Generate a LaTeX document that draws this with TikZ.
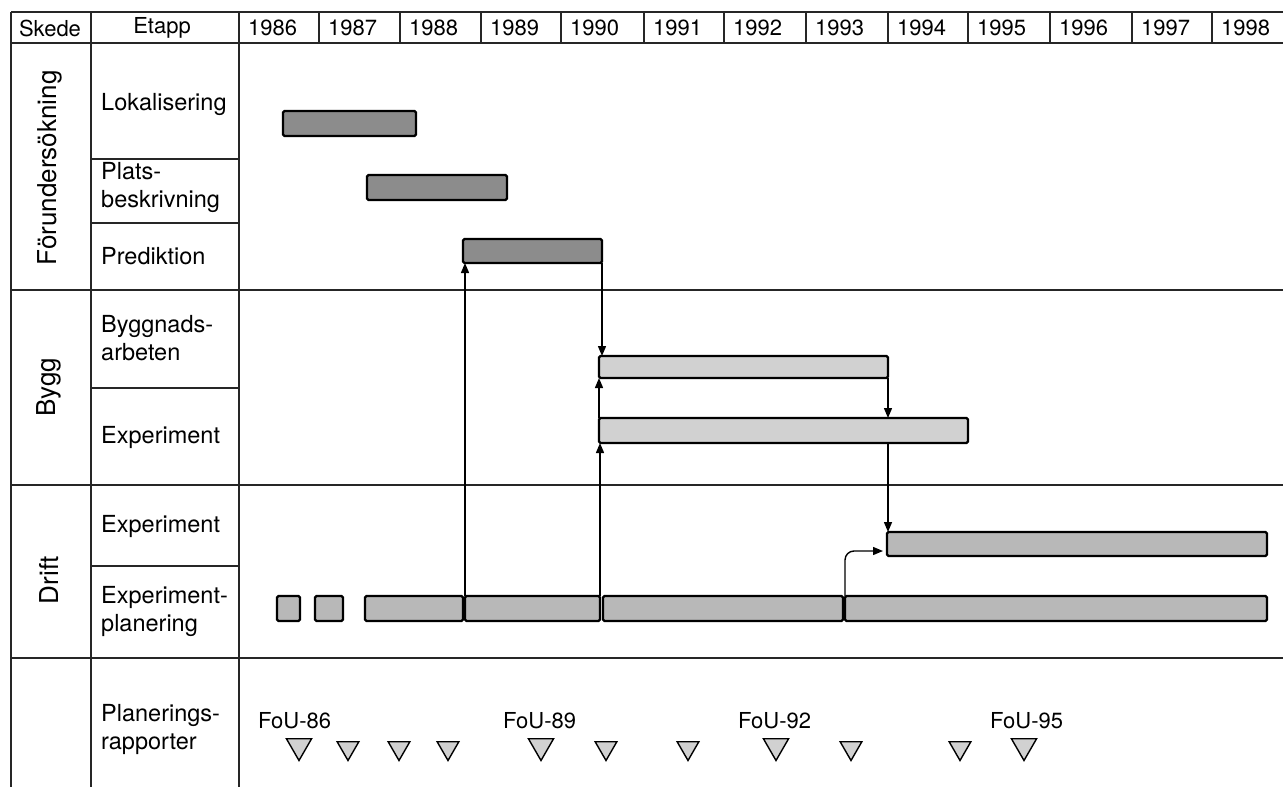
\documentclass[tikz,border=0pt]{standalone}
\usepackage{fontspec}
\setmainfont{TeX Gyre Heros}
\usetikzlibrary{arrows.meta,shapes.geometric,calc}
\begin{document}
\begin{tikzpicture}[x=1pt,y=-1pt,
  grid/.style={line width=1.5pt, draw=black!85},
  txt/.style={inner sep=0pt, font=\fontsize{22}{27}\selectfont},
  etxt/.style={inner sep=0pt, anchor=west, align=left, font=\fontsize{23.5}{28}\selectfont},
  vtxt/.style={inner sep=0pt, rotate=90, font=\fontsize{26}{30}\selectfont},
  bar/.style={draw=black, line width=2.2pt, rounded corners=1.5pt, inner sep=0pt, outer sep=0pt, anchor=north west},
  dark/.style={bar, fill=black!45},
  light/.style={bar, fill=black!18},
  mid/.style={bar, fill=black!28},
  arr/.style={line width=1.4pt, -{Triangle[length=10pt,width=8pt]}},
  rep/.style={draw=black, line width=1.4pt, fill=black!18, regular polygon, regular polygon sides=3, shape border rotate=180, inner sep=0pt},
  big/.style={rep, minimum size=29pt},
  small/.style={rep, minimum size=25pt}
]
\useasboundingbox (0,0) rectangle (1283,787);
\fill[white] (0,0) rectangle (1283,787);

% grid
\draw[grid] (11,12) -- (1283,12);
\draw[grid] (11,43) -- (1283,43);
\draw[grid] (11,290) -- (1283,290);
\draw[grid] (11,485) -- (1283,485);
\draw[grid] (11,658) -- (1283,658);
\draw[grid] (11,12) -- (11,787);
\draw[grid] (91,12) -- (91,787);
\draw[grid] (239,12) -- (239,787);
\draw[grid] (91,159) -- (239,159);
\draw[grid] (91,223) -- (239,223);
\draw[grid] (91,388) -- (239,388);
\draw[grid] (91,566) -- (239,566);
\foreach \x in {319,400,481,561,644,724,806,888,968,1050,1132,1212}
  \draw[grid] (\x,12) -- (\x,43);

% header
\node[txt] (hskede) at (50,28) {Skede};
\node[txt] (hetapp) at (162,28) {Etapp};
\foreach \x/\y in {239/1986,319/1987,400/1988,481/1989,561/1990,644/1991,724/1992,806/1993,888/1994,968/1995,1050/1996,1132/1997,1212/1998}
  \node[txt, anchor=west] (y\y) at (\x+9,28) {\y};

% phase labels
\node[vtxt] (fu) at (50,168) {Förundersökning};
\node[vtxt] (by) at (49,387) {Bygg};
\node[vtxt] (dr) at (49,580) {Drift};

% stage labels
\node[etxt] (elok) at (101,104) {Lokalisering};
\node[etxt] (epla) at (101,187) {Plats-\\beskrivning};
\node[etxt] (epre) at (101,256) {Prediktion};
\node[etxt] (ebyg) at (101,338) {Byggnads-\\arbeten};
\node[etxt] (eexb) at (101,437) {Experiment};
\node[etxt] (eexd) at (101,526) {Experiment};
\node[etxt] (eepl) at (101,611) {Experiment-\\planering};
\node[etxt] (eplr) at (101,729) {Planerings-\\rapporter};

% bars
\node[dark, minimum width=133pt, minimum height=25pt] (lok) at (283,111) {};
\node[dark, minimum width=140pt, minimum height=25pt] (pla) at (367,175) {};
\node[dark, minimum width=139pt, minimum height=24pt] (pre) at (463,239) {};
\node[light, minimum width=289pt, minimum height=22pt] (byg) at (599,356) {};
\node[light, minimum width=369pt, minimum height=25pt] (exb) at (599,418) {};
\node[mid, minimum width=380pt, minimum height=24pt] (exd) at (887,532) {};
\node[mid, minimum width=23pt, minimum height=25pt] (sq1) at (277,596) {};
\node[mid, minimum width=28pt, minimum height=25pt] (sq2) at (315,596) {};
\node[mid, minimum width=98pt, minimum height=25pt] (ep1) at (365,596) {};
\node[mid, minimum width=135pt, minimum height=25pt] (ep2) at (465,596) {};
\node[mid, minimum width=240pt, minimum height=25pt] (ep3) at (603,596) {};
\node[mid, minimum width=422pt, minimum height=25pt] (ep4) at (845,596) {};

% connectors
\draw[arr] (ep2.north west) -- (ep2.north west |- pre.south);
\draw[arr] (pre.south east) -- (pre.south east |- byg.north);
\draw[arr] (exb.north west) -- (exb.north west |- byg.south);
\draw[arr] (ep2.north east) -- (ep2.north east |- exb.south);
\draw[arr] (byg.south east) -- (byg.south east |- exb.north);
\draw[arr] (byg.south east |- exb.south) -- (byg.south east |- exd.north);
\coordinate (ca) at ($(exd.south west)+(-4,-5)$);
\draw[arr, rounded corners=9pt] (ep4.north west) |- (ca);

% planning reports
\node[txt, anchor=west] (f86) at (258,721) {FoU-86};
\node[txt, anchor=west] (f89) at (503,721) {FoU-89};
\node[txt, anchor=west] (f92) at (738,721) {FoU-92};
\node[txt, anchor=west] (f95) at (990,721) {FoU-95};
\node[big] (t1) at (299,746) {};
\node[small] (t2) at (348,748) {};
\node[small] (t3) at (399,748) {};
\node[small] (t4) at (448,748) {};
\node[big] (t5) at (541,746) {};
\node[small] (t6) at (606,748) {};
\node[small] (t7) at (688,748) {};
\node[big] (t8) at (776,746) {};
\node[small] (t9) at (851,748) {};
\node[small] (t10) at (960,748) {};
\node[big] (t11) at (1024,746) {};
\end{tikzpicture}
\end{document}
